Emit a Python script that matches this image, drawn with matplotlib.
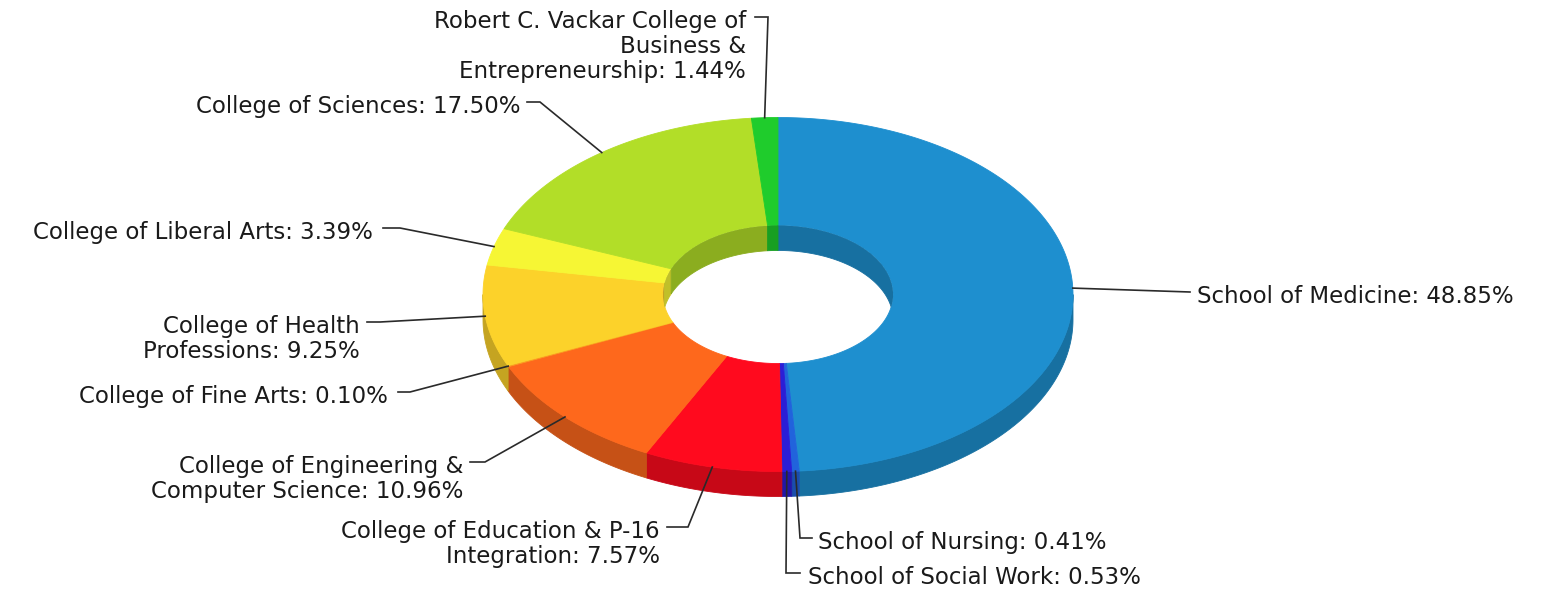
import matplotlib
matplotlib.use("Agg")
import matplotlib.pyplot as plt
import numpy as np
from matplotlib.patches import Polygon, Ellipse
from matplotlib.colors import to_rgb

# данные
names = ["School of Medicine", "School of Nursing", "School of Social Work",
         "College of Education & P-16\nIntegration",
         "College of Engineering &\nComputer Science",
         "College of Fine Arts", "College of Health\nProfessions",
         "College of Liberal Arts", "College of Sciences",
         "Robert C. Vackar College of\nBusiness &\nEntrepreneurship"]
values = [48.85, 0.41, 0.53, 7.57, 10.96, 0.10, 9.25, 3.39, 17.50, 1.44]
colors = ["#1e8fcf", "#2163dc", "#2b1ed6", "#ff0a1e", "#fe681c",
          "#fb9a1e", "#fcd22a", "#f6f634", "#b2de28", "#1fcc2c"]

# раскладка подписей: точка излома, конец линии, x текста, выравнивание
label_layout = [
    dict(elbow=(1190, 292), end=1190, tx=1197, ha="left"),
    dict(elbow=(800, 538), end=812, tx=818, ha="left"),
    dict(elbow=(786, 573), end=800, tx=808, ha="left"),
    dict(elbow=(688, 527), end=667, tx=660, ha="right"),
    dict(elbow=(485, 462), end=470, tx=463, ha="right"),
    dict(elbow=(410, 392), end=398, tx=388, ha="right"),
    dict(elbow=(380, 322), end=367, tx=360, ha="right"),
    dict(elbow=(400, 228), end=383, tx=373, ha="right"),
    dict(elbow=(540, 102), end=527, tx=521, ha="right"),
    dict(elbow=(768, 17), end=755, tx=746, ha="right"),
]

W, H = 1544, 589
cx, cy = 778, 294.5
a, b = 295, 177
hole = 0.39
depth = 25
shade = 0.78

fig = plt.figure(figsize=(W / 100, H / 100), dpi=100)
ax = fig.add_axes([0, 0, 1, 1])
ax.set_xlim(0, W)
ax.set_ylim(H, 0)
ax.axis("off")


def arc(t1, t2, ra, rb, dy=0.0):
    ts = np.linspace(t1, t2, max(2, int(abs(t2 - t1) * 80) + 2))
    return np.column_stack([cx + ra * np.cos(ts), cy + rb * np.sin(ts) + dy])


def dark(c):
    return tuple(np.array(to_rgb(c)) * shade)


frac = np.array(values) / sum(values)
starts = -np.pi / 2 + 2 * np.pi * np.concatenate([[0], np.cumsum(frac)[:-1]])
ends = starts + 2 * np.pi * frac

# внешняя боковая стенка (передняя половина)
for t1, t2, c in zip(starts, ends, colors):
    lo, hi = max(t1, 0), min(t2, np.pi)
    if lo < hi:
        pts = np.vstack([arc(lo, hi, a, b), arc(hi, lo, a, b, depth)])
        ax.add_patch(Polygon(pts, closed=True, fc=dark(c), ec=dark(c), lw=0.6, zorder=1))

# верхняя грань
for t1, t2, c in zip(starts, ends, colors):
    pts = np.vstack([arc(t1, t2, a, b), arc(t2, t1, a * hole, b * hole)])
    ax.add_patch(Polygon(pts, closed=True, fc=c, ec=c, lw=0.6, zorder=2))

# внутренняя стенка (задняя половина), обрезанная отверстием
clip = Ellipse((cx, cy), 2 * a * hole, 2 * b * hole, transform=ax.transData)
for t1, t2, c in zip(starts, ends, colors):
    for r1, r2 in [(-np.pi / 2, 0), (np.pi, 1.5 * np.pi)]:
        lo, hi = max(t1, r1), min(t2, r2)
        if lo < hi:
            pts = np.vstack([arc(lo, hi, a * hole, b * hole),
                             arc(hi, lo, a * hole, b * hole, depth)])
            p = Polygon(pts, closed=True, fc=dark(c), ec=dark(c), lw=0.6, zorder=3)
            ax.add_patch(p)
            p.set_clip_path(clip)

# подписи с выносками
mids = (starts + ends) / 2
for name, v, t, lay in zip(names, values, mids, label_layout):
    px, py = cx + a * np.cos(t), cy + b * np.sin(t)
    ex, ey = lay["elbow"]
    ax.plot([px, ex, lay["end"]], [py, ey, ey], color="#2a2a2a", lw=1.2, zorder=4,
            solid_joinstyle="miter")
    ax.text(lay["tx"], ey - 7, f"{name}: {v:.2f}%", ha=lay["ha"], va="top",
            multialignment=lay["ha"], fontsize=16.5, color="#1a1a1a",
            linespacing=1.12, family="DejaVu Sans", zorder=5)

fig.savefig("out.png", dpi=100)
